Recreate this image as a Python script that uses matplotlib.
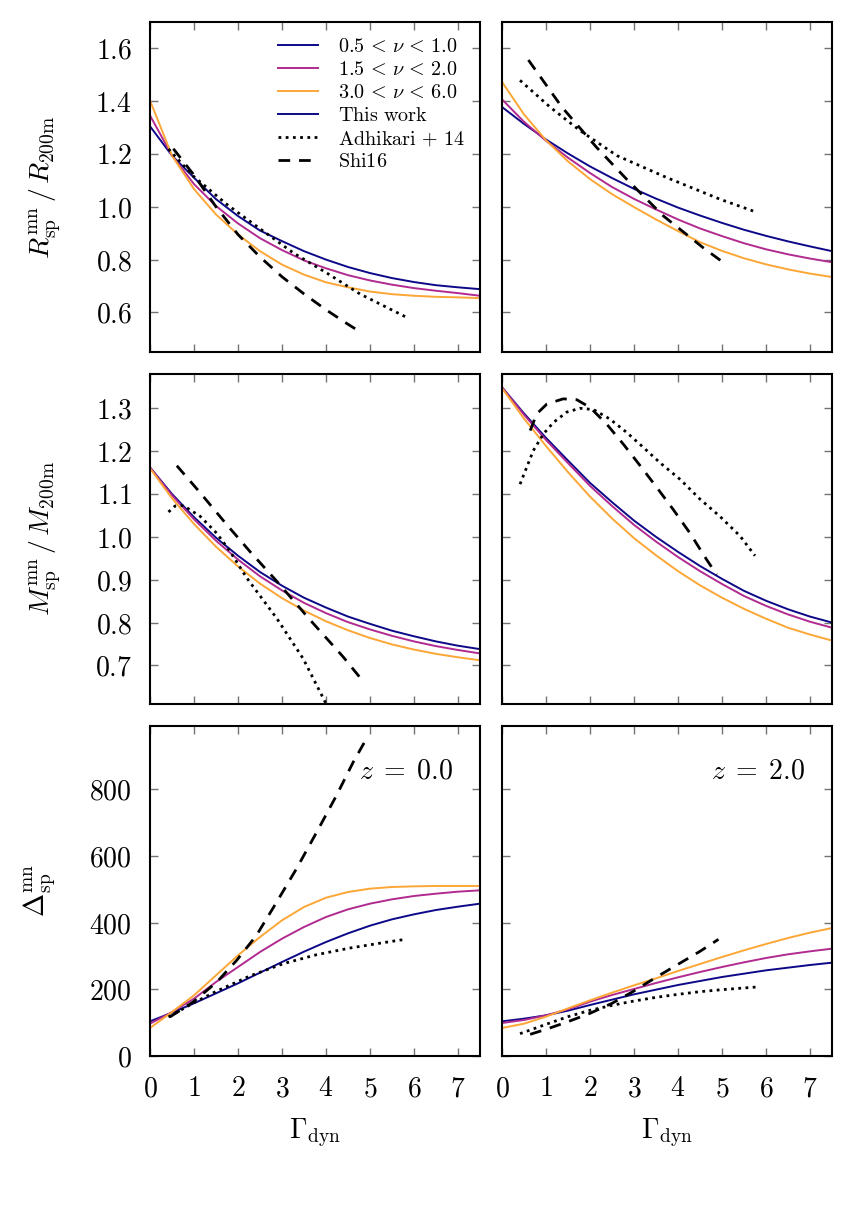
import matplotlib
matplotlib.use("Agg")
import matplotlib.pyplot as plt
from matplotlib.ticker import MultipleLocator, FuncFormatter
from matplotlib.lines import Line2D

plt.rcParams["mathtext.fontset"] = "cm"
plt.rcParams["font.family"] = ["DejaVu Serif"]

# ---------------- data ----------------
GAMMA = [0.0, 0.5, 1.0, 1.5, 2.0, 2.5, 3.0, 3.5, 4.0, 4.5, 5.0, 5.5, 6.0, 6.5, 7.0, 7.5]
NU_LABELS = [r"$0.5\,<\,\nu\,<\,1.0$", r"$1.5\,<\,\nu\,<\,2.0$", r"$3.0\,<\,\nu\,<\,6.0$"]
REF_LABELS = [r"$\mathrm{This\ work}$", r"$\mathrm{Adhikari}\,+\,14$", r"$\mathrm{Shi16}$"]
REDSHIFTS = [r"$z\;=\;0.0$", r"$z\;=\;2.0$"]

# R_sp / R_200m
R_z0_nu1 = [1.305, 1.194, 1.110, 1.029, 0.965, 0.910, 0.870, 0.832, 0.800, 0.772, 0.749, 0.730, 0.715, 0.703, 0.695, 0.688]
R_z0_nu2 = [1.346, 1.194, 1.086, 1.003, 0.937, 0.881, 0.836, 0.797, 0.767, 0.741, 0.721, 0.705, 0.692, 0.682, 0.673, 0.663]
R_z0_nu3 = [1.403, 1.194, 1.067, 0.971, 0.895, 0.832, 0.781, 0.743, 0.714, 0.695, 0.679, 0.669, 0.663, 0.659, 0.657, 0.654]
R_z2_nu1 = [1.378, 1.314, 1.255, 1.202, 1.153, 1.109, 1.068, 1.031, 0.997, 0.967, 0.939, 0.913, 0.890, 0.869, 0.850, 0.832]
R_z2_nu2 = [1.407, 1.322, 1.250, 1.186, 1.128, 1.075, 1.030, 0.990, 0.952, 0.918, 0.889, 0.862, 0.839, 0.820, 0.804, 0.790]
R_z2_nu3 = [1.473, 1.350, 1.252, 1.172, 1.105, 1.048, 0.999, 0.952, 0.908, 0.866, 0.833, 0.805, 0.782, 0.763, 0.747, 0.734]

# M_sp / M_200m
M_z0_nu1 = [1.162, 1.100, 1.046, 0.998, 0.956, 0.918, 0.886, 0.858, 0.835, 0.814, 0.797, 0.781, 0.768, 0.756, 0.746, 0.738]
M_z0_nu2 = [1.162, 1.097, 1.041, 0.991, 0.947, 0.908, 0.875, 0.846, 0.822, 0.801, 0.784, 0.769, 0.756, 0.745, 0.736, 0.728]
M_z0_nu3 = [1.160, 1.090, 1.030, 0.977, 0.931, 0.891, 0.857, 0.828, 0.803, 0.782, 0.764, 0.749, 0.737, 0.727, 0.719, 0.712]
M_z2_nu1 = [1.349, 1.288, 1.231, 1.178, 1.126, 1.081, 1.038, 1.000, 0.965, 0.932, 0.902, 0.874, 0.851, 0.831, 0.814, 0.800]
M_z2_nu2 = [1.349, 1.285, 1.226, 1.172, 1.119, 1.072, 1.028, 0.989, 0.953, 0.920, 0.890, 0.862, 0.839, 0.819, 0.802, 0.788]
M_z2_nu3 = [1.347, 1.276, 1.212, 1.151, 1.094, 1.043, 0.997, 0.957, 0.920, 0.887, 0.858, 0.832, 0.809, 0.788, 0.772, 0.758]

# Delta_sp
D_z0_nu1 = [104, 130, 158, 188, 218, 250, 282, 313, 342, 368, 391, 410, 425, 438, 448, 457]
D_z0_nu2 = [97, 132, 172, 222, 267, 312, 352, 387, 417, 440, 457, 470, 480, 487, 493, 497]
D_z0_nu3 = [84, 132, 182, 242, 302, 357, 407, 447, 475, 492, 502, 507, 509, 510, 510, 510]
D_z2_nu1 = [104, 112, 122, 136, 153, 169, 185, 199, 213, 225, 237, 247, 257, 265, 273, 280]
D_z2_nu2 = [99, 108, 122, 140, 163, 183, 201, 219, 236, 252, 267, 281, 294, 305, 314, 322]
D_z2_nu3 = [84, 97, 118, 143, 167, 190, 212, 233, 255, 276, 297, 317, 336, 354, 370, 384]

# Adhikari+14 (dotted)
ADH_R_z0_x = [0.42, 0.98, 1.74, 2.5, 3.26, 4.02, 4.77, 5.8]
ADH_R_z0_y = [1.219, 1.117, 1.010, 0.917, 0.825, 0.749, 0.670, 0.584]
ADH_R_z2_x = [0.41, 1.09, 1.77, 2.61, 3.74, 4.95, 5.71]
ADH_R_z2_y = [1.479, 1.378, 1.289, 1.194, 1.111, 1.029, 0.984]
ADH_M_z0_x = [0.42, 0.57, 0.76, 1.14, 1.52, 1.82, 2.20, 2.88, 3.48, 3.98, 4.05]
ADH_M_z0_y = [1.058, 1.072, 1.073, 1.048, 1.008, 0.966, 0.904, 0.810, 0.716, 0.615, 0.600]
ADH_M_z2_x = [0.41, 0.71, 0.94, 1.17, 1.47, 1.77, 2.08, 2.45, 2.83, 3.21, 3.59, 4.05, 4.50, 4.95, 5.41, 5.75]
ADH_M_z2_y = [1.123, 1.201, 1.240, 1.267, 1.291, 1.300, 1.297, 1.275, 1.244, 1.209, 1.173, 1.134, 1.088, 1.048, 1.002, 0.956]
ADH_D_z0_x = [0.42, 1.0, 1.52, 2.27, 3.03, 3.79, 4.55, 5.30, 5.8]
ADH_D_z0_y = [117, 160, 195, 240, 277, 304, 324, 340, 350]
ADH_D_z2_x = [0.41, 1.0, 1.5, 2.0, 2.5, 3.0, 3.5, 4.0, 4.5, 5.0, 5.79]
ADH_D_z2_y = [67, 95, 118, 137, 152, 165, 176, 185, 193, 199, 207]

# Shi16 (dashed)
SHI_R_z0_x = [0.53, 1.0, 1.5, 2.0, 2.5, 3.0, 3.5, 4.0, 4.5, 4.77]
SHI_R_z0_y = [1.22, 1.12, 1.00, 0.895, 0.81, 0.735, 0.67, 0.61, 0.555, 0.527]
SHI_R_z2_x = [0.60, 1.36, 2.15, 2.83, 3.67, 4.58, 4.99]
SHI_R_z2_y = [1.556, 1.378, 1.225, 1.105, 0.965, 0.844, 0.794]
SHI_M_z0_x = [0.61, 1.14, 1.74, 2.27, 2.92, 3.64, 4.39, 4.85]
SHI_M_z0_y = [1.166, 1.103, 1.029, 0.966, 0.892, 0.806, 0.720, 0.662]
SHI_M_z2_x = [0.64, 0.79, 1.02, 1.39, 1.70, 2.00, 2.38, 2.76, 3.14, 3.52, 3.89, 4.27, 4.65, 4.88]
SHI_M_z2_y = [1.248, 1.287, 1.310, 1.322, 1.320, 1.302, 1.263, 1.216, 1.166, 1.115, 1.064, 1.009, 0.947, 0.912]
SHI_D_z0_x = [0.45, 0.98, 1.52, 1.97, 2.42, 2.88, 3.33, 3.79, 4.24, 4.62, 4.92]
SHI_D_z0_y = [117, 162, 222, 287, 362, 462, 562, 672, 782, 882, 952]
SHI_D_z2_x = [0.64, 1.0, 1.5, 2.0, 2.5, 3.0, 3.5, 4.0, 4.5, 4.92]
SHI_D_z2_y = [65, 80, 103, 128, 158, 195, 236, 275, 314, 350]

# ---------------- style ----------------
COLORS = ["#0d0887", "#b12a90", "#fca636"]
LW = 1.4
REF_LW = 2.0
DOT = (0, (1, 1.6))
DASH = (0, (4.2, 3.2))

rows = [
    dict(curves=[(R_z0_nu1, R_z0_nu2, R_z0_nu3), (R_z2_nu1, R_z2_nu2, R_z2_nu3)],
         adh=[(ADH_R_z0_x, ADH_R_z0_y), (ADH_R_z2_x, ADH_R_z2_y)],
         shi=[(SHI_R_z0_x, SHI_R_z0_y), (SHI_R_z2_x, SHI_R_z2_y)],
         ylim=(0.45, 1.7), step=0.2, fmt="{:.1f}",
         ylabel=r"$R_{\rm sp}^{\rm mn}\,/\,R_{\rm 200m}$"),
    dict(curves=[(M_z0_nu1, M_z0_nu2, M_z0_nu3), (M_z2_nu1, M_z2_nu2, M_z2_nu3)],
         adh=[(ADH_M_z0_x, ADH_M_z0_y), (ADH_M_z2_x, ADH_M_z2_y)],
         shi=[(SHI_M_z0_x, SHI_M_z0_y), (SHI_M_z2_x, SHI_M_z2_y)],
         ylim=(0.61, 1.38), step=0.1, fmt="{:.1f}",
         ylabel=r"$M_{\rm sp}^{\rm mn}\,/\,M_{\rm 200m}$"),
    dict(curves=[(D_z0_nu1, D_z0_nu2, D_z0_nu3), (D_z2_nu1, D_z2_nu2, D_z2_nu3)],
         adh=[(ADH_D_z0_x, ADH_D_z0_y), (ADH_D_z2_x, ADH_D_z2_y)],
         shi=[(SHI_D_z0_x, SHI_D_z0_y), (SHI_D_z2_x, SHI_D_z2_y)],
         ylim=(0, 990), step=200, fmt="{:.0f}",
         ylabel=r"$\Delta_{\rm sp}^{\rm mn}$"),
]

W, H = 855, 1208
fig = plt.figure(figsize=(W / 100, H / 100), dpi=100)

lefts = [150, 502]
tops = [22, 374, 726]
AW, AH = 330, 330

for r, row in enumerate(rows):
    for c in range(2):
        ax = fig.add_axes([lefts[c] / W, 1 - (tops[r] + AH) / H, AW / W, AH / H])
        for k, ys in enumerate(row["curves"][c]):
            ax.plot(GAMMA, ys, color=COLORS[k], lw=LW, label=NU_LABELS[k])
        ax.plot(*row["adh"][c], color="k", lw=REF_LW, ls=DOT)
        ax.plot(*row["shi"][c], color="k", lw=REF_LW, ls=DASH)
        ax.set_xlim(0, 7.5)
        ax.set_ylim(*row["ylim"])
        ax.xaxis.set_major_locator(MultipleLocator(1))
        ax.yaxis.set_major_locator(MultipleLocator(row["step"]))
        f = row["fmt"]
        ax.yaxis.set_major_formatter(FuncFormatter(lambda v, p, f=f: "$" + f.format(v) + "$"))
        ax.xaxis.set_major_formatter(FuncFormatter(lambda v, p: "$%d$" % round(v)))
        ax.tick_params(axis="both", which="major", direction="in", top=True, right=True,
                       length=6, width=1.0, color="0.45", labelsize=20)
        ax.tick_params(axis="y", pad=13)
        ax.tick_params(axis="x", pad=14)
        for sp in ax.spines.values():
            sp.set_linewidth(1.5)
        if c == 1:
            ax.tick_params(labelleft=False)
        else:
            ax.set_ylabel(row["ylabel"], fontsize=20, labelpad=23)
        if r < 2:
            ax.tick_params(labelbottom=False)
        else:
            ax.set_xlabel(r"$\Gamma_{\rm dyn}$", fontsize=20, labelpad=10)
            ax.text(0.92, 0.865, REDSHIFTS[c], transform=ax.transAxes,
                    ha="right", va="center", fontsize=20)
        if r == 0 and c == 0:
            h = [Line2D([], [], color=COLORS[0], lw=LW),
                 Line2D([], [], color=COLORS[1], lw=LW),
                 Line2D([], [], color=COLORS[2], lw=LW),
                 Line2D([], [], color=COLORS[0], lw=LW),
                 Line2D([], [], color="k", lw=REF_LW, ls=DOT),
                 Line2D([], [], color="k", lw=REF_LW, ls=DASH)]
            ax.legend(h, NU_LABELS + REF_LABELS, loc="upper right", frameon=False,
                      fontsize=14.5, handlelength=2.0, handletextpad=0.95,
                      labelspacing=0.2, borderaxespad=0.35)

fig.savefig("out.png", dpi=100)
